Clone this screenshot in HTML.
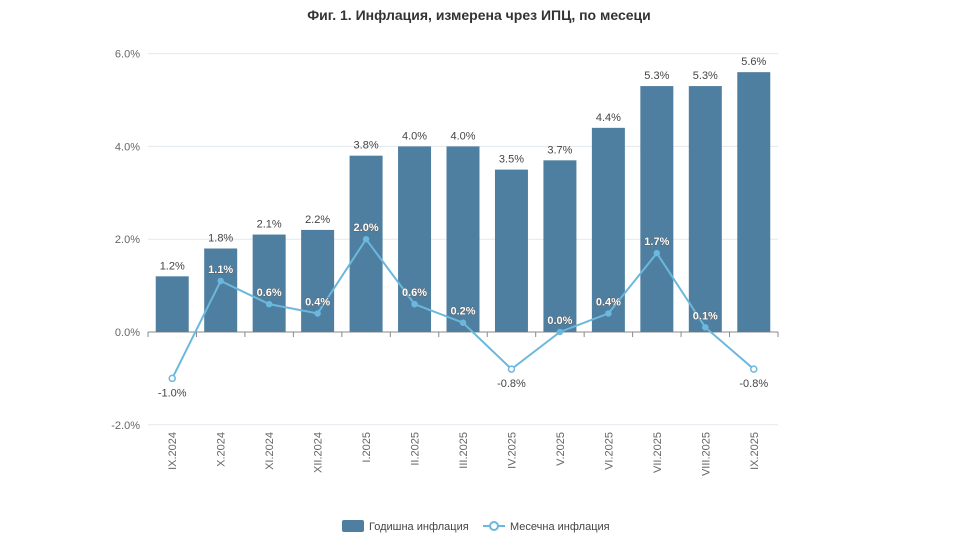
<!DOCTYPE html>
<html><head><meta charset="utf-8"><style>
body{margin:0;background:#fff;}
svg{display:block;font-family:"Liberation Sans","DejaVu Sans",sans-serif;}
</style></head><body>
<svg id="c" width="958" height="539" viewBox="0 0 958 539" xmlns="http://www.w3.org/2000/svg">
<rect width="958" height="539" fill="#fff"/>
<text x="479" y="20" text-anchor="middle" font-size="14" font-weight="bold" fill="#333">Фиг. 1. Инфлация, измерена чрез ИПЦ, по месеци</text>
</svg>
<script>
const s=document.getElementById('c'),NS='http://www.w3.org/2000/svg';
function el(t,a,txt){const e=document.createElementNS(NS,t);for(const k in a)e.setAttribute(k,a[k]);if(txt!=null)e.textContent=txt;s.appendChild(e);return e;}
const y=v=>332-v*46.4, L=148,R=778,w=(R-L)/13;
[6,4,2,0,-2].forEach(v=>{el('line',{x1:L,x2:R,y1:y(v),y2:y(v),stroke:'#e3e8ee','stroke-width':1});
el('text',{x:140,y:y(v)+4,'text-anchor':'end','font-size':11,fill:'#666'},v.toFixed(1)+'%');});
const cats=['IX.2024','X.2024','XI.2024','XII.2024','I.2025','II.2025','III.2025','IV.2025','V.2025','VI.2025','VII.2025','VIII.2025','IX.2025'];
const an=[1.2,1.8,2.1,2.2,3.8,4.0,4.0,3.5,3.7,4.4,5.3,5.3,5.6];
const mo=[-1.0,1.1,0.6,0.4,2.0,0.6,0.2,-0.8,0.0,0.4,1.7,0.1,-0.8];
el('line',{x1:L,x2:R,y1:332,y2:332,stroke:'#888','stroke-width':1});
for(let i=0;i<=13;i++){const x=L+i*w;el('line',{x1:x,x2:x,y1:332,y2:337,stroke:'#888'});}
cats.forEach((c,i)=>{const cx=L+w*(i+.5);
el('rect',{x:cx-16.5,y:y(an[i]),width:33,height:332-y(an[i]),fill:'#4f7fa0'});
el('text',{x:cx,y:y(an[i])-7,'text-anchor':'middle','font-size':11,fill:'#444'},an[i].toFixed(1)+'%');
el('text',{x:0,y:0,transform:`translate(${cx+4},432) rotate(-90)`,'text-anchor':'end','font-size':11,fill:'#666'},c);});
let d='';mo.forEach((v,i)=>{d+=(i?'L':'M')+(L+w*(i+.5))+' '+y(v);});
el('path',{d,fill:'none',stroke:'#6bb8dc','stroke-width':2});
mo.forEach((v,i)=>{const cx=L+w*(i+.5);
el('circle',{cx,cy:y(v),r:v<0?3:2.5,fill:v<0?'#fff':'#6bb8dc',stroke:'#6bb8dc','stroke-width':1.5});
if(v<0)el('text',{x:cx,y:y(v)+18,'text-anchor':'middle','font-size':11,fill:'#444'},v.toFixed(1)+'%');
else el('text',{x:cx,y:y(v)-8,'text-anchor':'middle','font-size':11,fill:'#fff',stroke:'#555','stroke-width':0.7,'paint-order':'stroke','font-weight':'bold'},v.toFixed(1)+'%');});
el('rect',{x:342,y:520,width:22,height:12,rx:2,fill:'#4f7fa0'});
el('text',{x:369,y:530,'font-size':11,fill:'#444'},'Годишна инфлация');
el('line',{x1:483,x2:505,y1:526,y2:526,stroke:'#6bb8dc','stroke-width':2});
el('circle',{cx:494,cy:526,r:4,fill:'#fff',stroke:'#6bb8dc','stroke-width':2});
el('text',{x:510,y:530,'font-size':11,fill:'#444'},'Месечна инфлация');
</script>
</body></html>
